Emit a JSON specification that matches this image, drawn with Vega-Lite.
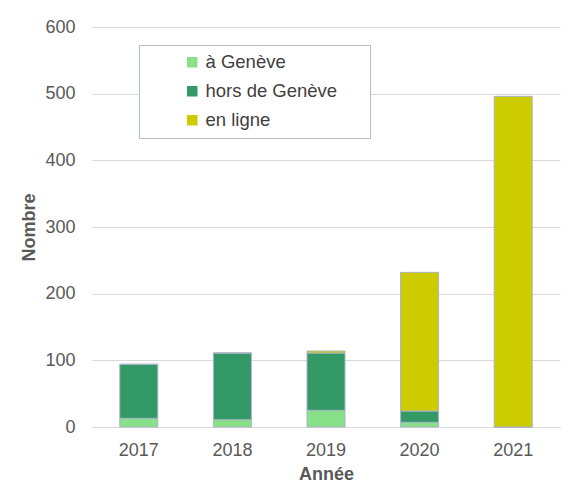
{
  "$schema": "https://vega.github.io/schema/vega-lite/v6.json",
  "width": 468,
  "height": 400,
  "autosize": {"type": "none"},
  "padding": {"left": 92, "top": 27, "right": 11, "bottom": 63},
  "background": "white",
  "config": {
    "font": "Liberation Sans",
    "view": {"stroke": null}
  },
  "data": {
    "values": [
      {"annee": "2017", "type": "à Genève", "n": 13},
      {"annee": "2017", "type": "hors de Genève", "n": 81},
      {"annee": "2017", "type": "en ligne", "n": 0},
      {"annee": "2018", "type": "à Genève", "n": 11},
      {"annee": "2018", "type": "hors de Genève", "n": 100},
      {"annee": "2018", "type": "en ligne", "n": 0},
      {"annee": "2019", "type": "à Genève", "n": 25},
      {"annee": "2019", "type": "hors de Genève", "n": 86},
      {"annee": "2019", "type": "en ligne", "n": 3},
      {"annee": "2020", "type": "à Genève", "n": 7},
      {"annee": "2020", "type": "hors de Genève", "n": 17},
      {"annee": "2020", "type": "en ligne", "n": 208},
      {"annee": "2021", "type": "à Genève", "n": 0},
      {"annee": "2021", "type": "hors de Genève", "n": 0},
      {"annee": "2021", "type": "en ligne", "n": 496}
    ]
  },
  "transform": [
    {"calculate": "indexof(['à Genève','hors de Genève','en ligne'], datum.type)", "as": "ord"}
  ],
  "mark": {"type": "bar", "width": 38, "stroke": "#a9b4c4", "strokeWidth": 1},
  "encoding": {
    "x": {
      "field": "annee", "type": "ordinal",
      "axis": {
        "title": "Année", "labelAngle": 0, "labelFontSize": 18, "labelColor": "#595959",
        "titleFontSize": 18, "titleColor": "#595959", "titleFontWeight": "bold",
        "ticks": false, "domainColor": "#d9d9d9", "labelPadding": 14, "titlePadding": 6
      }
    },
    "y": {
      "field": "n", "type": "quantitative", "stack": "zero",
      "scale": {"domain": [0, 600]},
      "axis": {
        "title": "Nombre", "values": [0, 100, 200, 300, 400, 500, 600],
        "labelFontSize": 18, "labelColor": "#595959", "titleFontSize": 18,
        "titleColor": "#595959", "titleFontWeight": "bold", "ticks": false,
        "domain": false, "gridColor": "#d9d9d9", "labelPadding": 17, "titlePadding": 6
      }
    },
    "color": {
      "field": "type", "type": "nominal",
      "scale": {"domain": ["à Genève", "hors de Genève", "en ligne"], "range": ["#88e088", "#339966", "#cccc00"]},
      "legend": {
        "title": "\u00a0\u00a0\u00a0\u00a0", "titleOrient": "right", "titlePadding": 25, "titleFontSize": 18,
        "orient": "none", "legendX": 47, "legendY": 18,
        "symbolType": "square", "symbolSize": 110, "symbolStrokeWidth": 0,
        "symbolOffset": 36, "labelOffset": 4,
        "labelFontSize": 18.5, "labelColor": "#404040", "rowPadding": 10,
        "padding": 8, "strokeColor": "#b4bfcc", "fillColor": "white"
      }
    },
    "order": {"field": "ord", "type": "quantitative"}
  }
}
